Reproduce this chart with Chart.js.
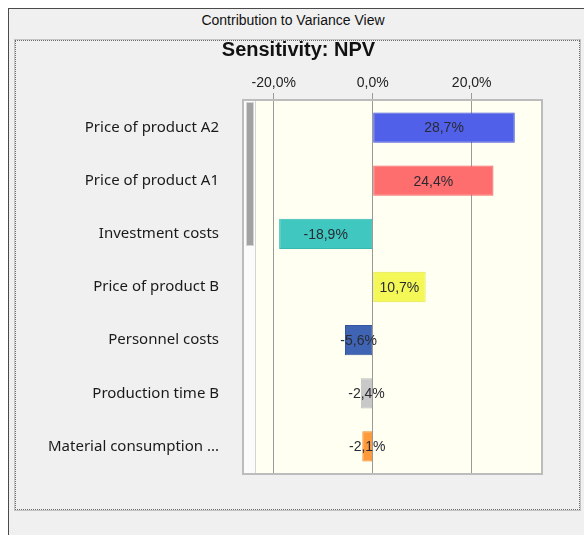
<!DOCTYPE html>
<html>
<head>
<meta charset="utf-8">
<script src="https://cdn.jsdelivr.net/npm/chart.js@4"></script>
<style>
  html, body { margin: 0; padding: 0; background: #fff; width: 584px; height: 535px; overflow: hidden; }
  #win { position: absolute; left: 8px; top: 8px; width: 576px; height: 527px; background: #f0f0f0; border-left: 1px solid #4a4a4a; border-top: 1px solid #4a4a4a; box-sizing: border-box; }
  #caption { position: absolute; left: 0; top: 12px; width: 586px; text-align: center; font: 14px "Liberation Sans", Arial, sans-serif; color: #111; }
  #panel { position: absolute; left: 15px; top: 40px; width: 565px; height: 470px; border: 1px dotted #6a6a6a; outline: 1px solid #c4c4c4; box-sizing: border-box; }
  #chart { position: absolute; left: 0; top: 0; }
</style>
</head>
<body>
<div id="win"></div>
<div id="caption">Contribution to Variance View</div>
<div id="panel"></div>
<canvas id="chart" width="584" height="535"></canvas>
<script>
const categories = ['Price of product A2', 'Price of product A1', 'Investment costs', 'Price of product B', 'Personnel costs', 'Production time B', 'Material consumption ...'];
const contributions = [28.7, 24.4, -18.9, 10.7, -5.6, -2.4, -2.1];
const xTicks = [-20, 0, 20];
const xMin = -26;
const xMax = 34;

const barColors = ['#5060e8', '#ff6e6e', '#40c8c0', '#f4f856', '#4064b4', '#c8c8c8', '#ff9a3a'];
const barEdges = ['#3e4ed8', '#f06060', '#36b8b0', '#e4e84a', '#34569e', '#bcbcbc', '#f08a2c'];

const pct = v => v.toFixed(1).replace('.', ',') + '%';

// cream plot area with the little scrollbar strip on the left
const plotBackground = {
    id: 'plotBackground',
    afterLayout(chart) {
        // let the long category names run left of the padded area without clipping
        chart.scales.y.left = 0;
    },
    beforeDraw(chart) {
        const { ctx, chartArea: a } = chart;
        const h = a.bottom - a.top;
        ctx.save();
        ctx.fillStyle = '#fffff2';
        ctx.fillRect(a.left + 12, a.top, a.right - a.left - 12, h);
        ctx.fillStyle = '#fbfbfb';
        ctx.fillRect(a.left, a.top, 12, h);
        ctx.fillStyle = '#a2a2a2';
        ctx.fillRect(a.left + 3, a.top + 2, 6, 142);
        ctx.strokeStyle = '#d4d4d4';
        ctx.lineWidth = 1;
        ctx.strokeRect(a.left + 2.5, a.top + 1.5, 7, 143);
        ctx.beginPath();
        ctx.moveTo(a.left + 11.5, a.top);
        ctx.lineTo(a.left + 11.5, a.bottom);
        ctx.stroke();
        ctx.restore();
    },
    afterDraw(chart) {
        const { ctx, chartArea: a } = chart;
        ctx.save();
        ctx.strokeStyle = '#bcbcbc';
        ctx.lineWidth = 2;
        ctx.strokeRect(a.left - 1, a.top - 1, a.right - a.left + 2, a.bottom - a.top + 2);
        ctx.restore();
    }
};

const valueLabels = {
    id: 'valueLabels',
    afterDatasetsDraw(chart) {
        const { ctx } = chart;
        const meta = chart.getDatasetMeta(0);
        const values = chart.data.datasets[0].data;
        ctx.save();
        ctx.font = '14px "Liberation Sans", Arial, sans-serif';
        ctx.fillStyle = '#2a2a33';
        ctx.textAlign = 'center';
        ctx.textBaseline = 'middle';
        meta.data.forEach((bar, i) => {
            const p = bar.getCenterPoint();
            ctx.fillText(pct(values[i]), p.x, p.y + 1);
        });
        ctx.restore();
    }
};

new Chart(document.getElementById('chart').getContext('2d'), {
    type: 'bar',
    data: {
        labels: categories,
        datasets: [{
            data: contributions,
            backgroundColor: barColors,
            borderColor: barEdges,
            borderWidth: 1,
            borderSkipped: false,
            barPercentage: 0.57,
            categoryPercentage: 1
        }]
    },
    options: {
        indexAxis: 'y',
        responsive: false,
        animation: false,
        layout: { padding: { left: 56, right: 43, top: 36, bottom: 62 } },
        plugins: {
            legend: { display: false },
            tooltip: { enabled: false },
            title: {
                display: true,
                text: 'Sensitivity: NPV',
                color: '#111',
                font: { family: '"Liberation Sans", Arial, sans-serif', size: 20, weight: 'bold' },
                padding: { top: 2, bottom: 9 }
            }
        },
        scales: {
            x: {
                position: 'top',
                min: xMin,
                max: xMax,
                afterFit(scale) { scale.height = 30; },
                afterBuildTicks(scale) { scale.ticks = xTicks.map(v => ({ value: v })); },
                ticks: {
                    callback: v => pct(v),
                    color: '#222',
                    padding: 1,
                    maxRotation: 0,
                    font: { family: '"Liberation Sans", Arial, sans-serif', size: 14 }
                },
                grid: { color: '#9a9a9a', tickLength: 8, drawTicks: true },
                border: { display: false }
            },
            y: {
                afterFit(scale) { scale.width = 188; },
                ticks: {
                    padding: 25,
                    color: '#1a1a1a',
                    font: { family: '"Noto Sans", sans-serif', size: 15 }
                },
                grid: { display: false, drawTicks: false },
                border: { display: false }
            }
        }
    },
    plugins: [plotBackground, valueLabels]
});
</script>
</body>
</html>
